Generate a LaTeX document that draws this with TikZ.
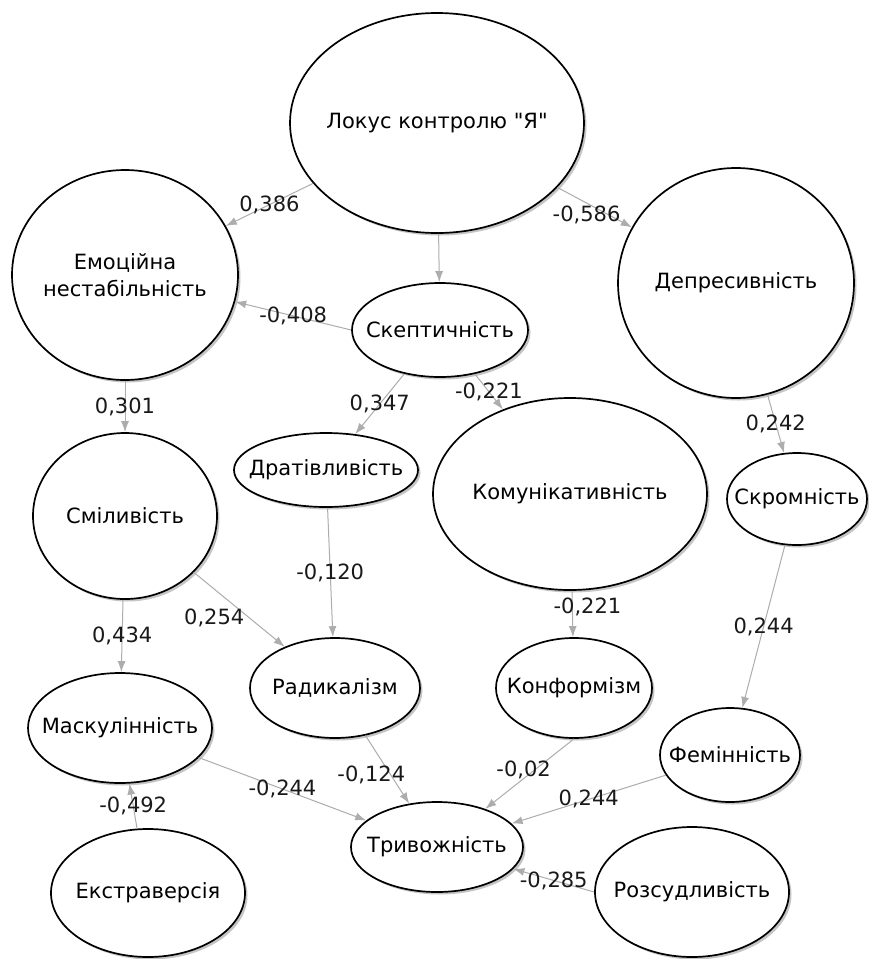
\documentclass[tikz,border=0pt]{standalone}
\usepackage{fontspec}
\setmainfont{DejaVu Sans}[Ligatures=TeXOff]
\usetikzlibrary{shapes, arrows}
\usetikzlibrary{arrows.meta,shadows}
\usetikzlibrary{positioning}

\begin{document}
\begin{tikzpicture}[x=1pt,y=-1pt,font=\fontsize{21}{27}\selectfont,
    trait/.style={ellipse,draw,line width=1.7pt,fill=white,inner sep=0pt,
      drop shadow={shadow xshift=2.5pt,shadow yshift=-2.5pt,fill=black!45,opacity=0.5}},
    link/.style={-{Latex[length=11pt,width=8pt]},draw=linkcol,line width=1pt},
    coef/.style={inner sep=0pt,text=textcol}]
		    \definecolor{linkcol}{rgb}{0.68,0.68,0.68}
		    \definecolor{textcol}{rgb}{0.1,0.1,0.1}
		    \useasboundingbox (0,0) rectangle (869,959);
		    \fill[white] (0,0) rectangle (869,959);

		    % traits
		    \node(lokus) [trait,minimum width=294pt,minimum height=220pt,label=center:{Локус контролю "Я"}] at (437,123) {};
		    \node(emo) [trait,minimum width=226pt,minimum height=210pt,label={[align=center]center:Емоційна\\нестабільність}] at (125,275) {};
		    \node(skep) [trait,minimum width=176pt,minimum height=94pt,label=center:Скептичність] at (440,330) {};
		    \node(depr) [trait,minimum width=236pt,minimum height=230pt,label=center:Депресивність] at (736,283) {};
		    \node(komun) [trait,minimum width=274pt,minimum height=192pt,label=center:Комунікативність] at (570,494) {};
		    \node(skrom) [trait,minimum width=140pt,minimum height=92pt,label=center:Скромність] at (797,499) {};
		    \node(drat) [trait,minimum width=184pt,minimum height=74pt,label=center:Дратівливість] at (326,470) {};
		    \node(smil) [trait,minimum width=184pt,minimum height=166pt,label=center:Сміливість] at (125,516) {};
		    \node(mask) [trait,minimum width=184pt,minimum height=110pt,label=center:Маскулінність] at (120,728) {};
		    \node(radik) [trait,minimum width=170pt,minimum height=100pt,label=center:Радикалізм] at (335,688) {};
		    \node(konf) [trait,minimum width=156pt,minimum height=100pt,label=center:Конформізм] at (574,688) {};
		    \node(femin) [trait,minimum width=140pt,minimum height=94pt,label=center:Фемінність] at (730,755) {};
		    \node(triv) [trait,minimum width=172pt,minimum height=90pt,label=center:Тривожність] at (437,847) {};
		    \node(ekstr) [trait,minimum width=194pt,minimum height=128pt,label=center:Екстраверсія] at (148,893) {};
		    \node(rozs) [trait,minimum width=194pt,minimum height=130pt,label=center:Розсудливість] at (692,892) {};

		    % links
		    \draw[link] (lokus) -- node[coef,midway]{0,386} (emo);
		    \draw[link] (lokus) -- (skep);
		    \draw[link] (lokus) -- node[coef,midway,xshift=-8pt,yshift=-8pt]{-0,586} (depr);
		    \draw[link] (skep.west) -- node[coef,midway]{-0,408} (emo);
		    \draw[link] (skep) -- node[coef,midway]{0,347} (drat);
		    \draw[link] (skep) -- node[coef,midway]{-0,221} (komun);
		    \draw[link] (emo) -- node[coef,midway]{0,301} (smil);
		    \draw[link] (depr) -- node[coef,midway]{0,242} (skrom);
		    \draw[link] (drat) -- node[coef,midway]{-0,120} (radik);
		    \draw[link] (smil) -- node[coef,midway,xshift=-25pt,yshift=-8pt]{0,254} (radik);
		    \draw[link] (smil) -- node[coef,midway]{0,434} (mask);
		    \draw[link] (komun) -- node[coef,midway,xshift=15pt,yshift=7pt]{-0,221} (konf);
		    \draw[link] (skrom) -- node[coef,midway]{0,244} (femin);
		    \draw[link] (ekstr) -- node[coef,midway]{-0,492} (mask);
		    \draw[link] (mask) -- node[coef,midway]{-0,244} (triv);
		    \draw[link] (radik) -- node[coef,midway,xshift=-16pt,yshift=-5pt]{-0,124} (triv);
		    \draw[link] (konf.south) -- node[coef,midway,xshift=-6pt,yshift=4pt]{-0,02} (triv);
		    \draw[link] (femin) -- node[coef,midway]{0,244} (triv);
		    \draw[link] (rozs.west) -- node[coef,midway]{-0,285} (triv);
\end{tikzpicture}
\end{document}
